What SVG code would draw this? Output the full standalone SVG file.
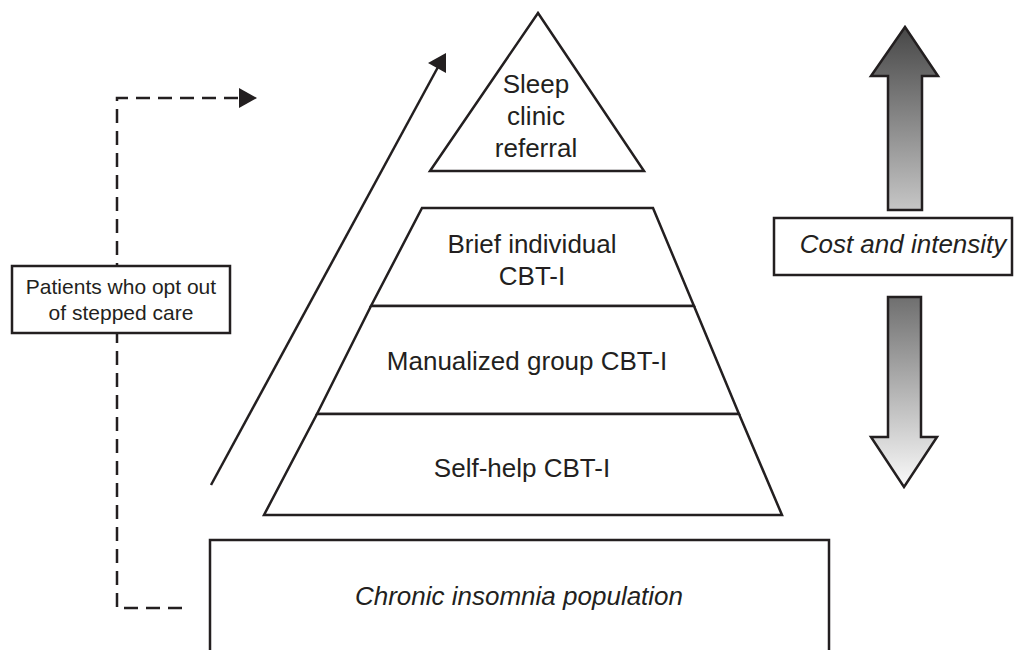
<svg xmlns="http://www.w3.org/2000/svg" width="1019" height="650" viewBox="0 0 1019 650">
<style>
.s{fill:#fff;stroke:#231f20;stroke-width:2.5;stroke-linejoin:miter}
.ln{fill:none;stroke:#231f20;stroke-width:2.5}
.d{fill:none;stroke:#231f20;stroke-width:2.5;stroke-dasharray:14 8}
.hd{fill:#231f20;stroke:none}
.t{font-family:"Liberation Sans",Arial,sans-serif;font-size:26px;fill:#231f20;text-anchor:middle}
.i{font-style:italic}
.sm{font-size:21px}
</style>
<defs>
<linearGradient id="gUp" x1="0" y1="0" x2="0" y2="1">
<stop offset="0" stop-color="#474747"/>
<stop offset="1" stop-color="#c6c6c6"/>
</linearGradient>
<linearGradient id="gDown" x1="0" y1="0" x2="0" y2="1">
<stop offset="0" stop-color="#6f6f6f"/>
<stop offset="1" stop-color="#fafafa"/>
</linearGradient>
</defs>
<rect width="1019" height="650" fill="#fff"/>

<g id="connectors">
<path class="d" d="M182 608 H117 V98 H240"/>
<polygon class="hd" points="239,88 257,98 239,108"/>
<line class="ln" x1="211" y1="485" x2="438" y2="67"/>
<polygon class="hd" points="446,53 428,63 446,73"/>
</g>

<g id="optout">
<rect class="s" x="12" y="266" width="218" height="67"/>
<text class="t sm" x="121" y="294">Patients who opt out</text>
<text class="t sm" x="121" y="320">of stepped care</text>
</g>

<g id="sleep-clinic">
<polygon class="s" points="538,13 644,171 430,171"/>
<text class="t" x="536" y="93">Sleep</text>
<text class="t" x="536" y="125">clinic</text>
<text class="t" x="536" y="157">referral</text>
</g>

<g id="brief">
<polygon class="s" points="422,208 653,208 694,306 371,306"/>
<text class="t" x="532" y="253">Brief individual</text>
<text class="t" x="532" y="285">CBT-I</text>
</g>

<g id="group">
<polygon class="s" points="371,306 694,306 739,414 317,414"/>
<text class="t" x="527" y="370">Manualized group CBT-I</text>
</g>

<g id="selfhelp">
<polygon class="s" points="317,414 739,414 782,515 264,515"/>
<text class="t" x="522" y="477">Self-help CBT-I</text>
</g>

<g id="population">
<rect class="s" x="210" y="540" width="619" height="130"/>
<text class="t i" x="519" y="605">Chronic insomnia population</text>
</g>

<g id="cost">
<polygon points="905,27 938,76 922,76 922,210 888,210 888,76 871,76" fill="url(#gUp)" stroke="#231f20" stroke-width="2.5"/>
<rect class="s" x="774" y="218" width="238" height="57"/>
<text class="t i" x="903" y="253">Cost and intensity</text>
<polygon points="888,297 921,297 921,437 937,437 904,487 871,437 888,437" fill="url(#gDown)" stroke="#231f20" stroke-width="2.5"/>
</g>
</svg>
